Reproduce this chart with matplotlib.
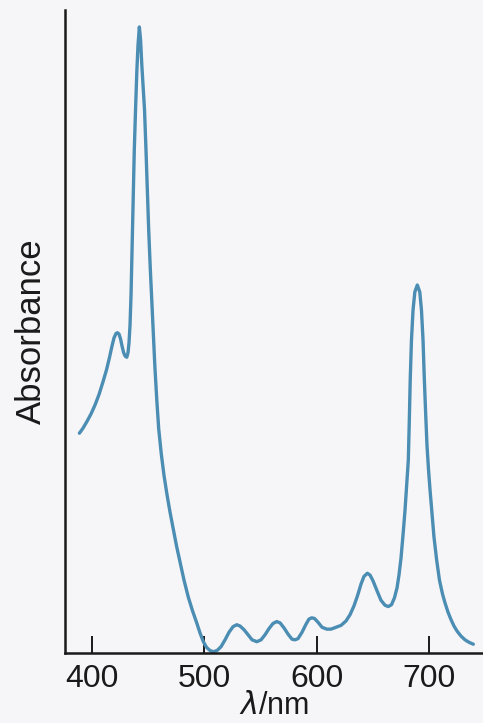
import matplotlib
matplotlib.use("Agg")
import matplotlib.pyplot as plt

# Wavelength (nm) and absorbance (relative)
wavelength = [389.2, 392.4, 396.0, 399.6, 403.1, 406.7, 410.2, 413.3, 416.0, 418.2,
              420.0, 421.8, 423.1, 424.4, 425.8, 427.1, 428.4, 429.8, 431.3, 432.4,
              433.3, 434.2, 435.1, 436.0, 436.9, 438.0, 439.1, 440.3, 441.3, 442.5,
              443.6, 444.7, 446.0, 447.1, 448.4, 449.6, 450.8, 452.2, 453.5, 454.8,
              456.3, 458.0, 459.7, 462.0, 464.4, 467.1, 469.8, 472.7, 475.6, 478.7,
              482.2, 486.0, 489.8, 493.5, 496.4, 499.4, 502.2, 505.3, 508.3, 511.6,
              515.1, 518.7, 522.2, 525.8, 529.1, 532.0, 535.6, 539.1, 542.7, 546.9,
              550.7, 554.2, 557.8, 561.3, 564.6, 567.6, 571.1, 574.7, 578.2, 580.9,
              583.6, 587.1, 590.7, 593.3, 595.7, 598.2, 601.3, 604.9, 609.1, 612.9,
              617.3, 621.8, 626.2, 629.8, 633.3, 636.4, 639.6, 642.2, 645.2, 647.6,
              650.2, 653.8, 657.3, 660.9, 663.8, 666.7, 669.3, 671.6, 673.3, 675.1,
              676.9, 678.7, 680.2, 681.6, 682.5, 683.3, 684.4, 685.8, 687.4, 689.6,
              691.8, 693.3, 694.7, 695.7, 696.9, 698.2, 699.6, 700.9, 702.4, 704.4,
              706.8, 709.3, 712.0, 714.2, 716.9, 719.6, 722.2, 724.9, 728.4, 732.0,
              735.6, 739.4]
absorbance = [0.350, 0.358, 0.369, 0.381, 0.395, 0.412, 0.432, 0.451, 0.471, 0.489,
              0.502, 0.509, 0.510, 0.508, 0.500, 0.489, 0.479, 0.473, 0.471, 0.478,
              0.494, 0.522, 0.570, 0.642, 0.721, 0.801, 0.865, 0.928, 0.968, 0.997,
              0.976, 0.936, 0.896, 0.865, 0.801, 0.737, 0.674, 0.613, 0.562, 0.508,
              0.456, 0.403, 0.357, 0.317, 0.283, 0.252, 0.224, 0.197, 0.170, 0.145,
              0.116, 0.089, 0.067, 0.048, 0.032, 0.018, 0.009, 0.004, 0.002, 0.004,
              0.010, 0.021, 0.033, 0.042, 0.045, 0.043, 0.037, 0.029, 0.021, 0.018,
              0.021, 0.029, 0.039, 0.047, 0.050, 0.048, 0.040, 0.030, 0.022, 0.021,
              0.023, 0.033, 0.046, 0.054, 0.056, 0.055, 0.049, 0.041, 0.038, 0.038,
              0.041, 0.044, 0.051, 0.061, 0.075, 0.091, 0.110, 0.122, 0.127, 0.124,
              0.115, 0.099, 0.084, 0.076, 0.074, 0.077, 0.088, 0.104, 0.124, 0.151,
              0.188, 0.228, 0.268, 0.307, 0.371, 0.435, 0.498, 0.546, 0.575, 0.586,
              0.575, 0.546, 0.498, 0.443, 0.387, 0.331, 0.291, 0.260, 0.228, 0.185,
              0.148, 0.116, 0.094, 0.080, 0.065, 0.053, 0.043, 0.035, 0.027, 0.021,
              0.017, 0.014]
xticks = [400, 500, 600, 700]
xtick_labels = ["400", "500", "600", "700"]

plt.rcParams['font.family'] = ['Liberation Sans', 'DejaVu Sans']

bg = '#f6f6f8'
fig = plt.figure(figsize=(4.83, 7.23), dpi=100, facecolor=bg)
ax = fig.add_axes([65/483, 70/723, 1 - 65/483, 643/723])
ax.set_facecolor(bg)

ax.plot(wavelength, absorbance, color='#4b8db3', lw=2.4, solid_capstyle='round',
        solid_joinstyle='round')

ax.set_xlim(376.4, 748)
ax.set_ylim(0, 1.024)

for s in ['top', 'right']:
    ax.spines[s].set_visible(False)
for s in ['left', 'bottom']:
    ax.spines[s].set_linewidth(1.8)
    ax.spines[s].set_color('#1a1a1a')

ax.set_xticks(xticks)
ax.set_xticklabels(xtick_labels)
ax.tick_params(axis='x', direction='in', length=12, width=1.4, color='#1a1a1a',
               labelsize=23, pad=8, labelcolor='#1a1a1a')
ax.set_yticks([])

fig.text(274/483, 9/723, r'$\lambda$/nm', fontsize=22, color='#1a1a1a',
         ha='center', va='baseline')
ax.set_ylabel('Absorbance', fontsize=25, labelpad=12, color='#1a1a1a')

fig.savefig('out.png', dpi=100, facecolor=bg)
